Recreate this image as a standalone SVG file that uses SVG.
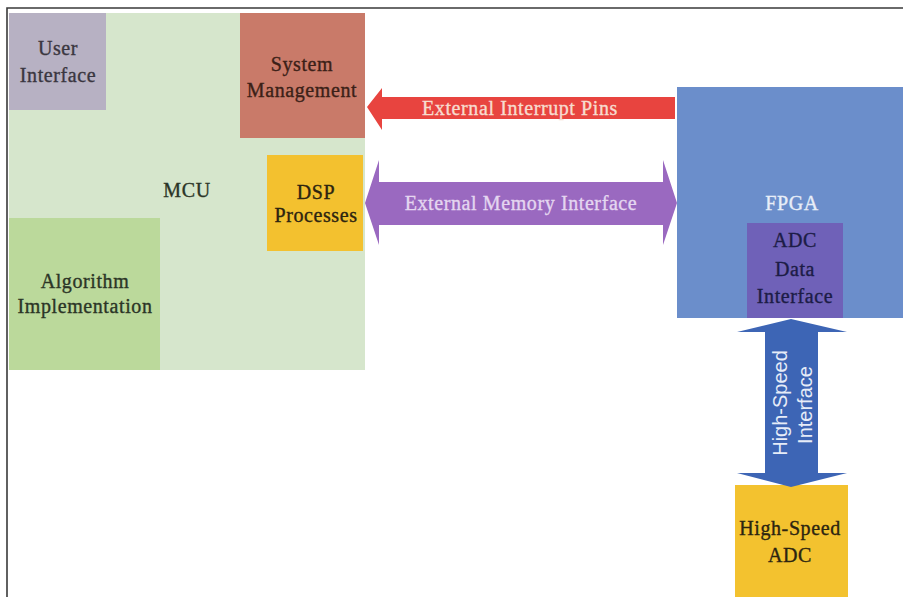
<svg xmlns="http://www.w3.org/2000/svg" width="903" height="597" viewBox="0 0 903 597">
  <style>
    .lbl { font-family: "Liberation Serif", "Times New Roman", serif; font-size: 20px; letter-spacing: 0.6px; text-anchor: middle; stroke-width: 0.35px; paint-order: stroke; }
    .dark { fill: #2b3526; stroke: #2b3526; }
    .sans { font-family: "Liberation Sans", Arial, sans-serif; font-size: 20px; text-anchor: middle; fill: #e6ecf8; }
  </style>
  <rect x="0" y="0" width="903" height="597" fill="#ffffff"/>
  <!-- frame -->
  <path d="M7 597 V8 H903" fill="none" stroke="#3a3a3a" stroke-width="1.6"/>

  <g id="mcu">
    <rect x="9" y="13" width="356" height="357" fill="#d6e6cc"/>
    <text class="lbl dark" x="187" y="197">MCU</text>
  </g>
  <g id="user-interface">
    <rect x="9" y="13" width="97" height="97" fill="#b7b1c3"/>
    <text class="lbl" x="58" y="55" fill="#3a3640" stroke="#3a3640">User</text>
    <text class="lbl" x="58" y="82" fill="#3a3640" stroke="#3a3640">Interface</text>
  </g>
  <g id="system-management">
    <rect x="240" y="13" width="125" height="125" fill="#c97a69"/>
    <text class="lbl" x="302" y="71" fill="#3b1f17" stroke="#3b1f17">System</text>
    <text class="lbl" x="302" y="97" fill="#3b1f17" stroke="#3b1f17">Management</text>
  </g>
  <g id="dsp-processes">
    <rect x="267" y="155" width="96" height="96" fill="#f3c12f"/>
    <text class="lbl" x="316" y="199" fill="#2c2410" stroke="#2c2410">DSP</text>
    <text class="lbl" x="316" y="222" fill="#2c2410" stroke="#2c2410">Processes</text>
  </g>
  <g id="algorithm-implementation">
    <rect x="9" y="218" width="151" height="152" fill="#bbd99b"/>
    <text class="lbl dark" x="85" y="288">Algorithm</text>
    <text class="lbl dark" x="85" y="313">Implementation</text>
  </g>
  <g id="fpga">
    <rect x="677" y="87" width="226" height="231" fill="#6b8ecb"/>
    <text class="lbl" x="792" y="210" fill="#e8eef8" stroke="#e8eef8">FPGA</text>
  </g>
  <g id="adc-data-interface">
    <rect x="747" y="223" width="96" height="95" fill="#6f61b8"/>
    <text class="lbl" x="795" y="247" fill="#1c1c46" stroke="#1c1c46">ADC</text>
    <text class="lbl" x="795" y="276" fill="#1c1c46" stroke="#1c1c46">Data</text>
    <text class="lbl" x="795" y="303" fill="#1c1c46" stroke="#1c1c46">Interface</text>
  </g>
  <g id="high-speed-adc">
    <rect x="735" y="485" width="113" height="112" fill="#f3c22f"/>
    <text class="lbl" x="790" y="535" fill="#2c2410" stroke="#2c2410">High-Speed</text>
    <text class="lbl" x="790" y="562" fill="#2c2410" stroke="#2c2410">ADC</text>
  </g>

  <g id="connectors">
    <!-- interrupt lines: FPGA to MCU -->
    <polygon points="367,107 382,88 382,97 675,97 675,119 382,119 382,130" fill="#e8443f"/>
    <text class="lbl" x="520" y="115" fill="#f7dccf" stroke="#f7dccf">External Interrupt Pins</text>
    <!-- memory bus, both directions -->
    <polygon points="365,203 379,160 379,182 663,182 663,160 677,203 663,245 663,225 379,225 379,245" fill="#9a69c0"/>
    <text class="lbl" x="521" y="210" fill="#e4d6f0" stroke="#e4d6f0">External Memory Interface</text>
    <!-- high-speed link between ADC and FPGA -->
    <polygon points="791,319 847,332 818,332 818,473 847,473 791,487 737,473 765,473 765,332 737,332" fill="#3d65b5"/>
    <text class="sans" transform="translate(787,403) rotate(-90)">High-Speed</text>
    <text class="sans" transform="translate(812,405) rotate(-90)">Interface</text>
  </g>
</svg>
